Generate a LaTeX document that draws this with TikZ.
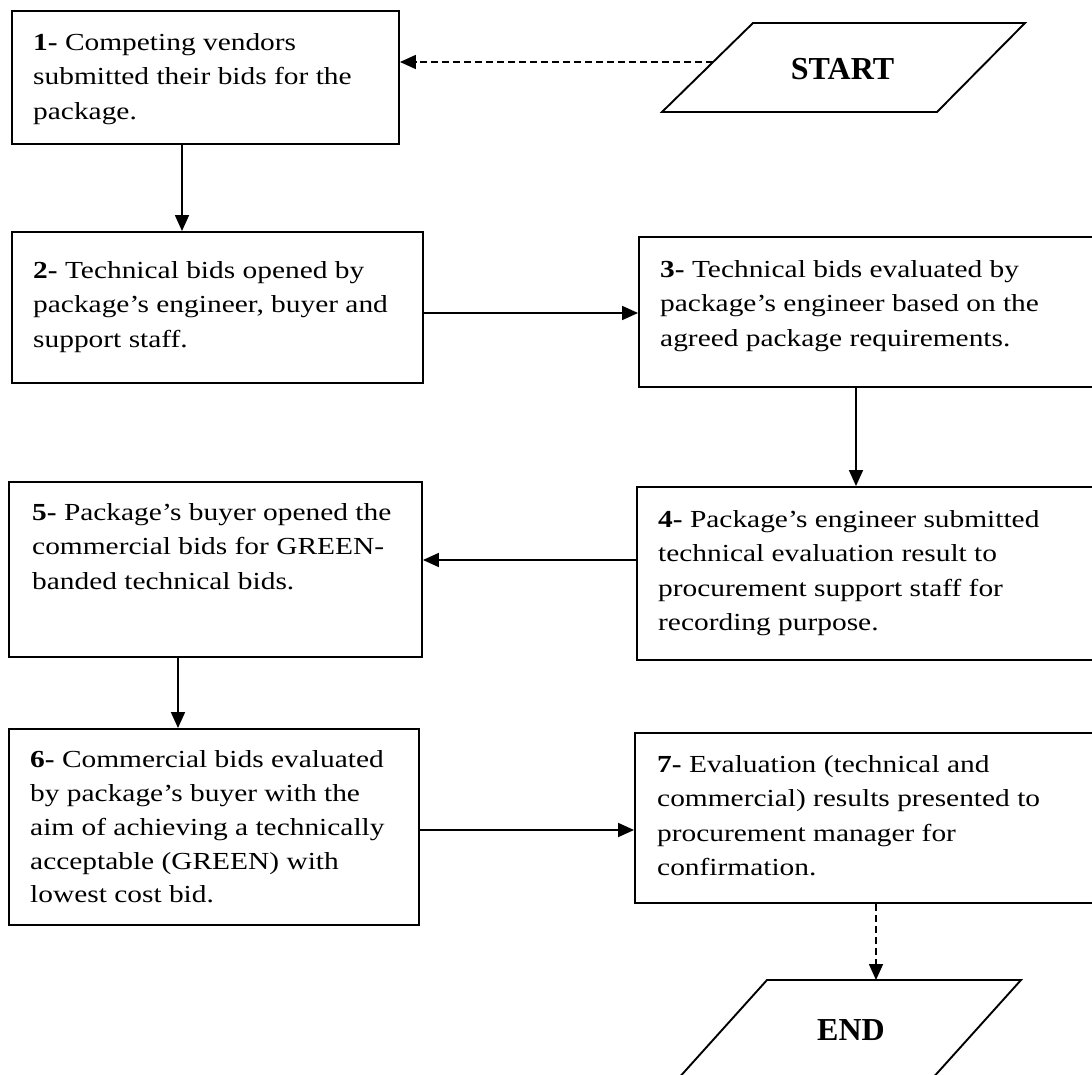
\documentclass[tikz,border=0pt]{standalone}
\usepackage{fontspec}
\usetikzlibrary{arrows.meta}
\newfontfamily\bodyfont{Liberation Serif}[FakeStretch=1.2]
\newfontfamily\termfont{Liberation Serif}
\begin{document}
\begin{tikzpicture}[x=1pt,y=-1pt,
  box/.style={draw, line width=1.9pt, inner sep=0pt},
  txt/.style={anchor=north west, inner sep=0pt, align=left, font=\bodyfont\fontsize{24.5}{34.5}\selectfont},
  arr/.style={line width=1.7pt, -{Triangle[length=16pt,width=14pt]}},
  darr/.style={arr, dash pattern=on 7pt off 4pt},
  term/.style={font=\termfont\bfseries\fontsize{32}{38}\selectfont, inner sep=0pt, anchor=base},
  para/.style={line width=1.9pt, line join=miter}]
\useasboundingbox (0,0) rectangle (1092,1075);
\clip (0,0) rectangle (1092,1075);

% boxes
\node[box, minimum width=387pt, minimum height=133pt] (b1) at (205.5,77.5) {};
\node[box, minimum width=411pt, minimum height=151pt] (b2) at (217.5,307.5) {};
\node[box, minimum width=481pt, minimum height=150pt] (b3) at (879.5,312) {};
\node[box, minimum width=483pt, minimum height=173pt] (b4) at (878.5,573.5) {};
\node[box, minimum width=413pt, minimum height=175pt] (b5) at (215.5,569.5) {};
\node[box, minimum width=410pt, minimum height=196pt] (b6) at (214,827) {};
\node[box, minimum width=485pt, minimum height=170pt] (b7) at (877.5,818) {};

% texts
\node[txt] (t1) at (33,25.85) {\strut\textbf{1-} Competing vendors\\submitted their bids for the\\package.};
\node[txt] (t2) at (33,253.85) {\strut\textbf{2-} Technical bids opened by\\package’s engineer, buyer and\\support staff.};
\node[txt] (t3) at (660,252.85) {\strut\textbf{3-} Technical bids evaluated by\\package’s engineer based on the\\agreed package requirements.};
\node[txt] (t4) at (658,502.85) {\strut\textbf{4-} Package’s engineer submitted\\technical evaluation result to\\procurement support staff for\\recording purpose.};
\node[txt] (t5) at (32,495.85) {\strut\textbf{5-} Package’s buyer opened the\\commercial bids for GREEN-\\banded technical bids.};
\node[txt, font=\bodyfont\fontsize{24.5}{33.8}\selectfont] (t6) at (30,743.85) {\strut\textbf{6-} Commercial bids evaluated\\by package’s buyer with the\\aim of achieving a technically\\acceptable (GREEN) with\\lowest cost bid.};
\node[txt] (t7) at (657,747.85) {\strut\textbf{7-} Evaluation (technical and\\commercial) results presented to\\procurement manager for\\confirmation.};

% terminals
\draw[para] (753,23) -- (1025,23) -- (937,112) -- (662,112) -- cycle;
\node[term] (start) at (842.5,80) {START};
\draw[para] (767,980) -- (1021,980) -- (913,1100) -- (659,1100) -- cycle;
\node[term] (end) at (851,1040) {END};
\coordinate (sL) at (713,62);
\coordinate (eT) at (876,980);

% arrow positions
\coordinate (x12) at (182,0);
\coordinate (y23) at (0,313);
\coordinate (x34) at (856,0);
\coordinate (y45) at (0,560);
\coordinate (x56) at (178,0);
\coordinate (y67) at (0,830);

% connectors
\draw[darr] (sL) -- (b1.east |- sL);
\draw[arr] (b1.south -| x12) -- (b2.north -| x12);
\draw[arr] (b2.east |- y23) -- (b3.west |- y23);
\draw[arr] (b3.south -| x34) -- (b4.north -| x34);
\draw[arr] (b4.west |- y45) -- (b5.east |- y45);
\draw[arr] (b5.south -| x56) -- (b6.north -| x56);
\draw[arr] (b6.east |- y67) -- (b7.west |- y67);
\draw[darr] (b7.south -| eT) -- (eT);
\end{tikzpicture}
\end{document}
